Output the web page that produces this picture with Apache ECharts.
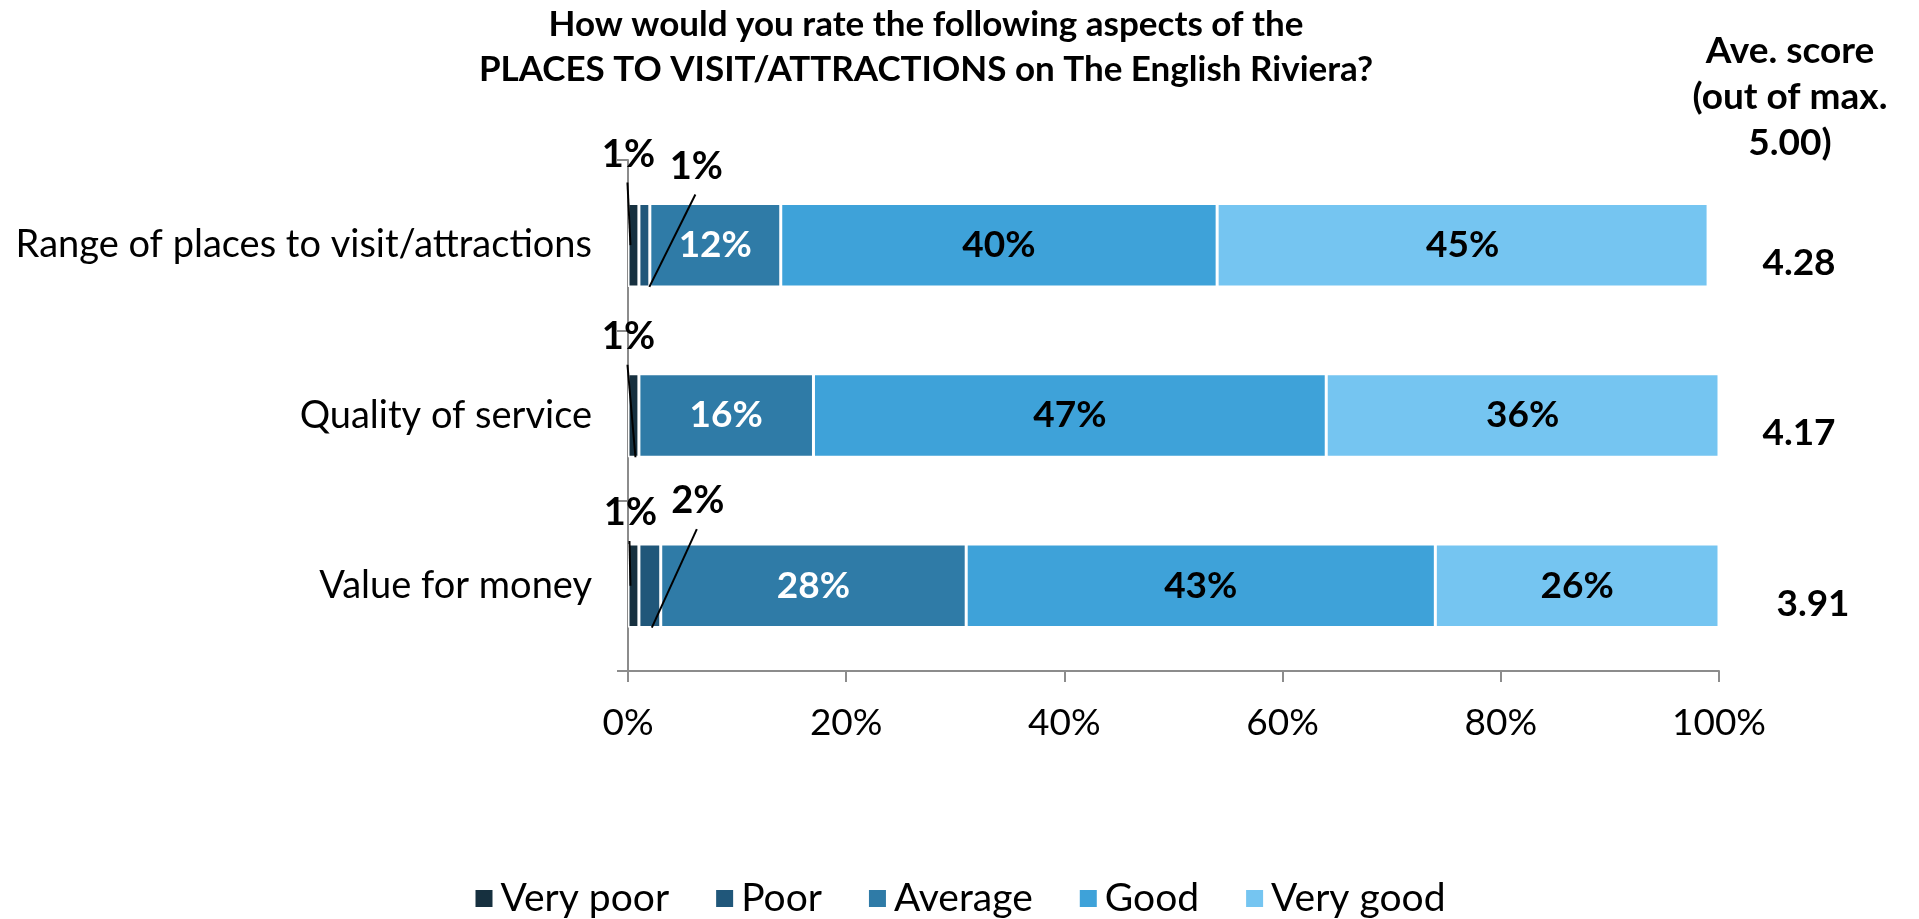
<!DOCTYPE html>
<html>
<head>
<meta charset="utf-8">
<title>Places to visit / attractions rating</title>
<script src="https://cdn.jsdelivr.net/npm/echarts@6/dist/echarts.min.js"></script>
<style>
  html, body { margin: 0; padding: 0; background: #fff; }
  #chart { width: 1919px; height: 919px; }
</style>
</head>
<body>
<div id="chart"></div>
<script>
// Survey aspects (top to bottom)
const categories = ['Range of places to visit/attractions', 'Quality of service', 'Value for money'];

// Share of respondents per rating, in %
const ratingNames = ['Very poor', 'Poor', 'Average', 'Good', 'Very good'];
const veryPoor = [1, 1, 1];
const poor     = [1, 0, 2];
const average  = [12, 16, 28];
const good     = [40, 47, 43];
const veryGood = [45, 36, 26];

// Average score per aspect (out of 5.00)
const aveScores = ['4.28', '4.17', '3.91'];

// Percentage axis ticks
const xMin = 0, xMax = 100, xStep = 20;

const ratingValues = [veryPoor, poor, average, good, veryGood];
const ratingColors = ['#16303f', '#20577a', '#2f7ba7', '#3ea2d9', '#75c5f1'];
const insideLabelColors = ['#fff', '#fff', '#fff', '#000', '#000'];

const FONT = 'Lato, "Open Sans", "DejaVu Sans", sans-serif';

// Small segments get their label lifted above the bar with a leader line.
// dx/dy: label centre relative to segment centre / bar top; ex, ef: line end offset and fraction of bar height.
const calloutLayout = {
  '0-0': { dx: -5, dy: -49, ex: -3, ef: 0.5 },
  '1-0': { dx: 52, dy: -37, ex: 5, ef: 1.0 },
  '0-1': { dx: -5, dy: -37, ex: 2, ef: 1.0 },
  '0-2': { dx: -3, dy: -31, ex: -3, ef: 0.5 },
  '1-2': { dx: 48, dy: -43, ex: 2, ef: 1.0 }
};

// Horizontal nudge of each score text box
const scoreShift = [0, 0, 28];

const chart = echarts.init(document.getElementById('chart'));

const series = ratingNames.map((name, s) => ({
  name: name,
  type: 'bar',
  stack: 'total',
  barWidth: '49%',
  data: ratingValues[s],
  itemStyle: { color: ratingColors[s], borderColor: '#fff', borderWidth: 1.5 },
  label: {
    show: s >= 2,
    position: 'inside',
    formatter: p => (p.value > 0 ? p.value + '%' : ''),
    color: insideLabelColors[s],
    fontFamily: FONT,
    fontWeight: 'bold',
    fontSize: 37
  },
  emphasis: { disabled: true }
}));

chart.setOption({
  animation: false,
  grid: { left: 628, right: 200, top: 160, bottom: 248, containLabel: false },
  legend: {
    data: ratingNames,
    bottom: -4,
    left: 'center',
    icon: 'rect',
    itemWidth: 19,
    itemHeight: 19,
    itemGap: 45,
    textStyle: { fontFamily: FONT, fontSize: 39, color: '#000', padding: [0, 0, 0, 2] }
  },
  xAxis: {
    type: 'value',
    min: xMin,
    max: xMax,
    interval: xStep,
    splitLine: { show: false },
    axisLine: { show: true, lineStyle: { color: '#8c8c8c', width: 2 } },
    axisTick: { show: true, length: 11, lineStyle: { color: '#8c8c8c', width: 2 } },
    axisLabel: {
      margin: 34,
      formatter: '{value}%',
      fontFamily: FONT,
      fontSize: 37,
      color: '#000'
    }
  },
  yAxis: [
    {
      type: 'category',
      data: categories,
      inverse: true,
      axisLine: { show: true, lineStyle: { color: '#8c8c8c', width: 2 } },
      axisTick: { show: true, length: 11, lineStyle: { color: '#8c8c8c', width: 2 } },
      axisLabel: { margin: 36, fontFamily: FONT, fontSize: 38, color: '#000' }
    },
    {
      type: 'category',
      data: aveScores,
      inverse: true,
      position: 'right',
      axisLine: { show: false },
      axisTick: { show: false },
      axisLabel: {
        margin: 80,
        align: 'center',
        verticalAlign: 'top',
        lineHeight: 36,
        formatter: (v, i) => '{s' + i + '|' + v + '}',
        rich: {
          s0: { padding: [0, 0, 0, scoreShift[0]] },
          s1: { padding: [0, 0, 0, scoreShift[1]] },
          s2: { padding: [0, 0, 0, scoreShift[2]] }
        },
        fontFamily: FONT,
        fontSize: 37,
        fontWeight: 'bold',
        color: '#000'
      }
    }
  ],
  series: series
});

// Title, score header and callouts for the thin segments
function buildGraphics() {
  const els = [];

  els.push({
    type: 'text',
    x: 926, y: 47,
    style: {
      text: 'How would you rate the following aspects of the\nPLACES TO VISIT/ATTRACTIONS on The English Riviera?',
      fontFamily: FONT, fontSize: 35, fontWeight: 'bold', fill: '#000',
      align: 'center', verticalAlign: 'middle', lineHeight: 45
    }
  });

  els.push({
    type: 'text',
    x: 1790, y: 97,
    style: {
      text: 'Ave. score\n(out of max.\n5.00)',
      fontFamily: FONT, fontSize: 37, fontWeight: 'bold', fill: '#000',
      align: 'center', verticalAlign: 'middle', lineHeight: 46
    }
  });

  const c0 = chart.convertToPixel({ seriesIndex: 0 }, [0, 0]);
  const c1 = chart.convertToPixel({ seriesIndex: 0 }, [0, 1]);
  const barH = Math.abs(c1[1] - c0[1]) * 0.49;

  categories.forEach((cat, ci) => {
    let start = 0;
    ratingValues.forEach((vals, s) => {
      const v = vals[ci];
      const lay = calloutLayout[s + '-' + ci];
      if (lay && v > 0) {
        const mid = chart.convertToPixel({ seriesIndex: 0 }, [start + v / 2, ci]);
        const barTop = mid[1] - barH / 2;
        const lx = mid[0] + lay.dx;
        const ly = barTop + lay.dy;
        els.push({
          type: 'line',
          shape: { x1: lx - 1, y1: ly + 28, x2: mid[0] + lay.ex, y2: barTop + barH * lay.ef },
          style: { stroke: '#000', lineWidth: 2 },
          z: 10
        });
        els.push({
          type: 'text',
          x: lx, y: ly,
          style: {
            text: v + '%', fontFamily: FONT, fontSize: 38, fontWeight: 'bold', fill: '#000',
            align: 'center', verticalAlign: 'middle'
          },
          z: 11
        });
      }
      start += v;
    });
  });
  return els;
}

chart.setOption({ graphic: buildGraphics() });
</script>
</body>
</html>
